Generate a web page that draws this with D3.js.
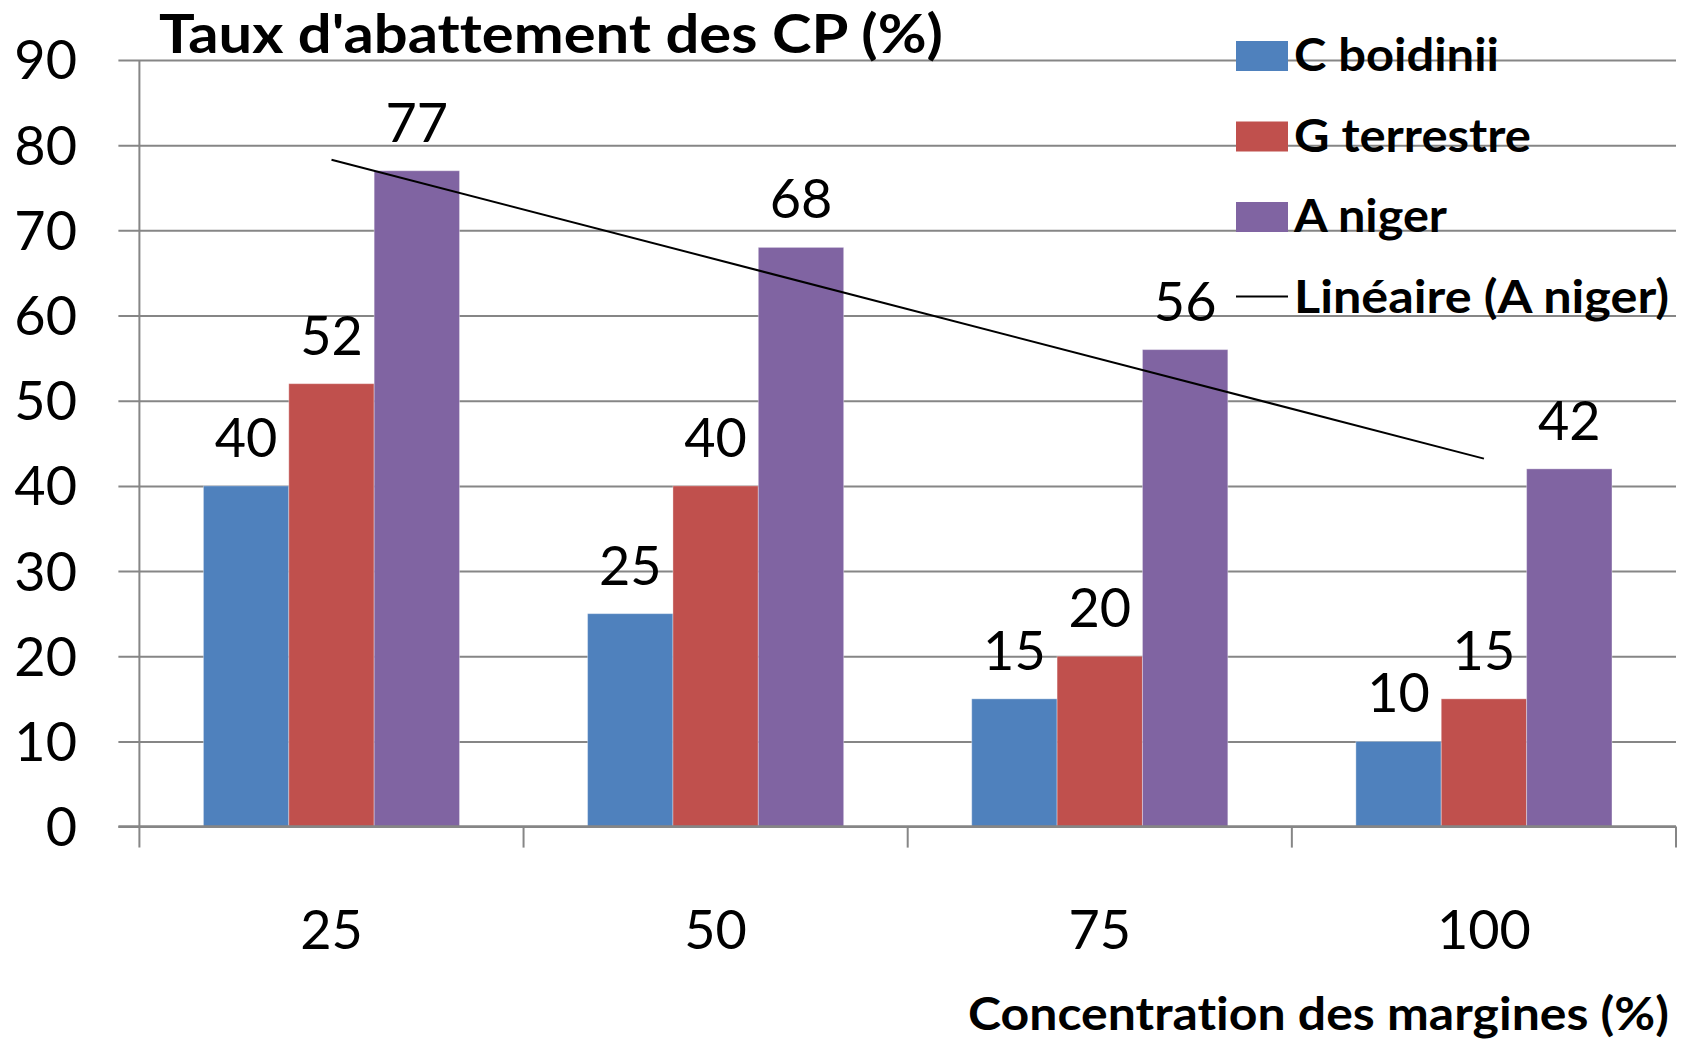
<!DOCTYPE html>
<html><head><meta charset="utf-8">
<script src="https://cdn.jsdelivr.net/npm/d3@7"></script>
<style>
html,body{margin:0;padding:0;background:#fff;}
svg{display:block;font-family:Lato,"Open Sans",sans-serif;font-variant-ligatures:none;font-feature-settings:"liga" 0,"clig" 0;}
</style></head>
<body>
<svg id="chart" width="1681" height="1042"></svg>
<script>
const categories = ["25","50","75","100"];
const seriesNames = ["C boidinii","G terrestre","A niger"];
const cBoidinii = [40,25,15,10];
const gTerrestre = [52,40,20,15];
const aNiger = [77,68,56,42];
const yTicks = [0,10,20,30,40,50,60,70,80,90];
const colors = ["#4F81BD","#C0504D","#8064A2"];
const titleText = "Taux d'abattement des CP (%)";
const xTitleText = "Concentration des margines (%)";
const trendLabel = "Linéaire (A niger)";

const series = [cBoidinii, gTerrestre, aNiger];
const svg = d3.select("#chart");
const L = 139.4, R = 1676, B = 826.6, T = 60;

const x = d3.scaleBand().domain(categories).range([L, R]).padding(0);
const xs = d3.scaleBand().domain(seriesNames).range([0, x.bandwidth()]).paddingInner(0).paddingOuter(0.75);
const y = d3.scaleLinear().domain([0, 90]).range([B, T]);

// gridlines + y ticks
const yAxis = d3.axisLeft(y).tickValues(yTicks).tickSize(-(R - L)).tickFormat("").tickSizeOuter(0);
const gy = svg.append("g").attr("transform", `translate(${L},0)`).call(yAxis);
gy.select(".domain").remove();
gy.selectAll(".tick line").attr("x1", -21).attr("stroke", "#868686").attr("stroke-width", 2);

// y tick labels
svg.append("g").selectAll("text").data(yTicks).join("text")
  .attr("x", 77).attr("y", d => y(d)).attr("dy", "0.36em")
  .attr("text-anchor", "end").attr("font-size", 54).attr("fill", "#000")
  .text(d => d);

// bars
const groups = svg.append("g").selectAll("g").data(categories).join("g")
  .attr("transform", c => `translate(${x(c)},0)`);
seriesNames.forEach((s, si) => {
  groups.append("rect")
    .attr("x", xs(s)).attr("width", xs.bandwidth())
    .attr("y", (c, i) => y(series[si][i]))
    .attr("height", (c, i) => B - y(series[si][i]))
    .attr("fill", colors[si])
    .attr("stroke", "rgba(255,255,255,0.35)").attr("stroke-width", 1);
  groups.append("text")
    .attr("x", xs(s) + xs.bandwidth() / 2)
    .attr("y", (c, i) => y(series[si][i]) - 29)
    .attr("text-anchor", "middle").attr("font-size", 54).attr("fill", "#000")
    .text((c, i) => series[si][i]);
});

// axes lines
svg.append("line").attr("x1", L).attr("x2", L).attr("y1", T).attr("y2", B + 21)
  .attr("stroke", "#868686").attr("stroke-width", 2);
svg.append("line").attr("x1", L - 21).attr("x2", R).attr("y1", B).attr("y2", B)
  .attr("stroke", "#868686").attr("stroke-width", 2.5);
const boundaries = categories.map(c => x(c)).concat([R]);
svg.append("g").selectAll("line").data(boundaries.slice(1)).join("line")
  .attr("x1", d => d).attr("x2", d => d).attr("y1", B).attr("y2", B + 21)
  .attr("stroke", "#868686").attr("stroke-width", 2);

// x labels
svg.append("g").selectAll("text").data(categories).join("text")
  .attr("x", c => x(c) + x.bandwidth() / 2).attr("y", 949)
  .attr("text-anchor", "middle").attr("font-size", 54).attr("fill", "#000")
  .text(c => c);

// linear trendline for A niger
const n = aNiger.length;
const xi = d3.range(1, n + 1);
const mx = d3.mean(xi), my = d3.mean(aNiger);
const slope = d3.sum(xi.map((v, i) => (v - mx) * (aNiger[i] - my))) / d3.sum(xi.map(v => (v - mx) ** 2));
const icpt = my - slope * mx;
const trendPts = [0, n - 1].map(i => [x(categories[i]) + x.bandwidth() / 2, y(icpt + slope * (i + 1))]);
svg.append("path").attr("d", d3.line()(trendPts)).attr("stroke", "#000").attr("stroke-width", 2).attr("fill", "none");

// title
svg.append("text").attr("x", 159).attr("y", 53).attr("font-size", 54).attr("font-weight", "bold")
  .attr("textLength", 784).attr("lengthAdjust", "spacingAndGlyphs").text(titleText);

// x axis title
svg.append("text").attr("x", 968).attr("y", 1030).attr("font-size", 46).attr("font-weight", "bold")
  .attr("textLength", 701).attr("lengthAdjust", "spacingAndGlyphs").text(xTitleText);

// legend
const legendItems = seriesNames.map((s, i) => ({label: s, color: colors[i], type: "rect"}))
  .concat([{label: trendLabel, color: "#000", type: "line"}]);
const legendWidths = [205, 237, 153, 375];
const lg = svg.append("g").selectAll("g").data(legendItems).join("g")
  .attr("transform", (d, i) => `translate(1236,${71 + i * 80.5})`);
lg.filter(d => d.type === "rect").append("rect")
  .attr("x", 0).attr("y", -30).attr("width", 52).attr("height", 30).attr("fill", d => d.color);
lg.filter(d => d.type === "line").append("line")
  .attr("x1", 0).attr("x2", 52).attr("y1", -16).attr("y2", -16).attr("stroke", "#000").attr("stroke-width", 2);
lg.append("text").attr("x", 58).attr("y", 0).attr("font-size", 45).attr("font-weight", "bold")
  .attr("textLength", (d, i) => legendWidths[i]).attr("lengthAdjust", "spacingAndGlyphs")
  .text(d => d.label);
</script>
</body></html>
